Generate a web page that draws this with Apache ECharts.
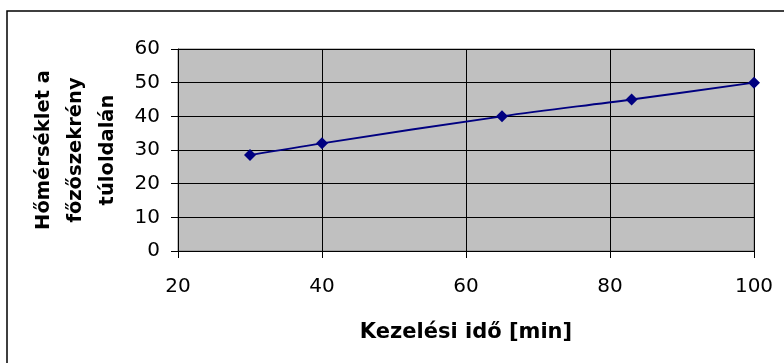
<!DOCTYPE html>
<html>
<head>
<meta charset="utf-8">
<script src="https://cdn.jsdelivr.net/npm/echarts@6/dist/echarts.min.js"></script>
<style>
  html, body { margin: 0; padding: 0; background: #ffffff; }
  #chart { width: 784px; height: 363px; }
</style>
</head>
<body>
<div id="chart"></div>
<script>
// Kezelési idő (min) és a hőmérséklet a főzőszekrény túloldalán
const kezelesiIdo = [30, 40, 65, 83, 100];
const homerseklet = [28.5, 32, 40, 45, 50];
const xTicks = [20, 40, 60, 80, 100];
const yTicks = [0, 10, 20, 30, 40, 50, 60];

const xTitle = 'Kezelési idő [min]';
const yTitle = 'Hőmérséklet a\nfőzőszekrény\ntúloldalán';

const points = kezelesiIdo.map((x, i) => [x, homerseklet[i]]);

const chart = echarts.init(document.getElementById('chart'), null, { renderer: 'canvas' });

chart.setOption({
  animation: false,
  backgroundColor: '#ffffff',
  textStyle: { fontFamily: 'DejaVu Sans' },
  graphic: [{
    type: 'rect',
    shape: { x: 7, y: 11, width: 820, height: 400 },
    style: { fill: 'none', stroke: '#000000', lineWidth: 1.5 },
    silent: true,
    z: -10
  }],
  grid: {
    left: 178, top: 49, width: 576, height: 202,
    show: true,
    backgroundColor: '#c0c0c0',
    borderColor: '#808080',
    borderWidth: 1
  },
  xAxis: {
    type: 'value',
    min: xTicks[0],
    max: xTicks[xTicks.length - 1],
    interval: xTicks[1] - xTicks[0],
    name: xTitle,
    nameLocation: 'middle',
    nameGap: 71,
    nameTextStyle: { fontSize: 21, fontWeight: 'bold', color: '#000000', fontFamily: 'DejaVu Sans' },
    axisLine: { show: true, lineStyle: { color: '#000000', width: 1 } },
    axisTick: { show: true, length: 7, lineStyle: { color: '#000000' } },
    axisLabel: { fontSize: 20, color: '#000000', margin: 26, fontFamily: 'DejaVu Sans' },
    splitLine: { show: true, lineStyle: { color: '#000000', width: 1 } }
  },
  yAxis: {
    type: 'value',
    min: yTicks[0],
    max: yTicks[yTicks.length - 1],
    interval: yTicks[1] - yTicks[0],
    name: yTitle,
    nameLocation: 'middle',
    nameGap: 52,
    nameTextStyle: { fontSize: 19.5, fontWeight: 'bold', color: '#000000', lineHeight: 32, align: 'center', fontFamily: 'DejaVu Sans' },
    axisLine: { show: true, lineStyle: { color: '#000000', width: 1 } },
    axisTick: { show: true, length: 7, lineStyle: { color: '#000000' } },
    axisLabel: { fontSize: 20, color: '#000000', margin: 18, fontFamily: 'DejaVu Sans' },
    splitLine: { show: true, lineStyle: { color: '#000000', width: 1 } }
  },
  series: [{
    type: 'line',
    data: points,
    smooth: 0.35,
    symbol: 'diamond',
    symbolSize: 12,
    itemStyle: { color: '#000080' },
    lineStyle: { color: '#000080', width: 1.8 },
    z: 5
  }]
});
</script>
</body>
</html>
